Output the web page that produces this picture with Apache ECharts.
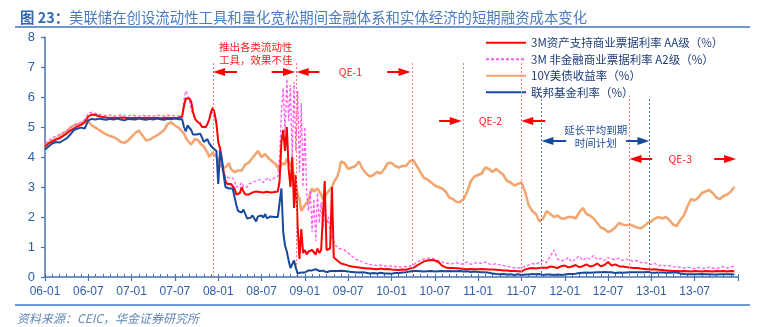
<!DOCTYPE html>
<html>
<head>
<meta charset="utf-8">
<script src="https://cdn.jsdelivr.net/npm/echarts@6/dist/echarts.min.js"></script>
<style>
  html, body { margin: 0; padding: 0; background: #ffffff; }
  #chart { width: 759px; height: 327px; }
</style>
</head>
<body>
<div id="chart"></div>
<script>
// Time axis is measured in months from 2006-01 (0 = 2006-01-01, 96 = 2014-01-01).
// Sampling: half-monthly to 2007-07, weekly through the crisis (2007-08 .. 2009-05), half-monthly after.
function buildMonthGrid() {
  const g = [];
  for (let m = 0; m < 19; m += 0.5) g.push(m);
  for (let m = 19; m < 41; m += 0.25) g.push(m);
  for (let m = 41; m < 96; m += 0.5) g.push(m);
  return g;
}
const months = buildMonthGrid();

const seriesNames = [
  '3M资产支持商业票据利率 AA级（%）',
  '3M 非金融商业票据利率 A2级（%）',
  '10Y美债收益率（%）',
  '联邦基金利率（%）'
];

// 3M asset-backed commercial paper, AA
const abcpRate = [
  4.35,4.45,4.52,4.58,4.62,4.7,4.78,4.88,4.95,5.02,5.07,5.15,
  5.35,5.42,5.4,5.36,5.33,5.32,5.3,5.31,5.3,5.32,5.31,5.3,
  5.3,5.31,5.3,5.3,5.31,5.3,5.3,5.31,5.29,5.3,5.31,5.3,5.3,5.3,
  5.35,5.7,5.95,6.0, 5.95,5.85,5.5,5.3, 5.2,5.25,5.1,5.0, 4.95,5.0,5.1,5.25, 5.5,5.65,5.45,5.1,
  4.5,4.3,3.9,3.5, 3.2,3.1,3.05,3.1, 3.1,2.95,2.75,2.7, 2.8,3.0,2.85,2.75, 2.7,2.75,2.8,2.82,
  2.82,2.85,2.8,2.83, 2.85,2.82,2.8,2.84, 2.83,2.82,2.85,2.83, 2.84,2.85,3.2,4.5, 4.9,4.2,5.0,3.6,
  3.0,4.0,2.3,3.4, 1.7,0.6,1.6,0.8, 0.9,0.75,0.85,0.8, 0.9,0.85,0.75,0.95, 0.8,0.9,0.85,3.2,
  0.9,0.85,0.95,3.0, 0.65,0.6,0.55,0.5,
  0.45,0.42,0.38,0.35,0.33,0.32,0.3,0.28,0.28,0.27,0.26,0.28,0.26,0.27,
  0.25,0.24,0.23,0.25,0.24,0.28,0.3,0.38,0.45,0.52,0.55,0.57,0.55,0.5,0.38,0.32,0.3,0.3,0.29,0.28,0.27,0.26,0.27,0.26,
  0.26,0.27,0.26,0.25,0.25,0.24,0.23,0.22,0.22,0.2,0.2,0.19,0.18,0.25,0.28,0.3,0.28,0.3,0.32,0.3,0.35,0.33,0.3,0.36,
  0.38,0.32,0.35,0.4,0.33,0.36,0.42,0.35,0.38,0.45,0.36,0.4,0.5,0.38,0.42,0.36,0.35,0.33,0.32,0.3,0.3,0.28,0.27,0.26,
  0.25,0.26,0.24,0.23,0.22,0.21,0.2,0.2,0.19,0.2,0.19,0.18,0.2,0.19,0.18,0.2,0.19,0.18,0.2,0.19,0.2,0.18,0.2,0.19
];

// 3M non-financial commercial paper, A2
const cpA2Rate = [
  4.45,4.55,4.65,4.68,4.75,4.82,4.88,4.98,5.05,5.1,5.15,5.25,
  5.45,5.5,5.45,5.42,5.4,5.38,5.4,5.36,5.38,5.4,5.37,5.36,
  5.4,5.38,5.36,5.4,5.37,5.38,5.36,5.4,5.38,5.37,5.4,5.38,5.37,5.36,
  5.4,5.9,6.2,6.1, 5.9,5.6,5.4,5.3, 5.2,5.25,5.15,5.05, 5.0,4.95,5.1,5.3, 5.4,5.5,5.4,5.2,
  4.6,4.0,3.6,3.45, 3.35,3.4,3.3,3.35, 3.3,3.2,3.0,2.95, 3.05,3.15,3.0,2.95, 3.0,3.1,3.05,3.15,
  3.1,3.2,3.15,3.25, 3.2,3.15,3.25,3.2, 3.3,3.2,3.25,3.3, 3.25,3.35,4.0,5.5, 6.3,4.8,6.6,5.2,
  6.4,3.8,6.5,4.2, 6.2,3.5,5.8,3.0, 5.0,2.8,2.2,2.9, 1.5,2.6,1.2,2.8, 1.8,2.5,1.6,2.3,
  1.7,2.0,1.5,1.3, 1.2,1.05,1.0,0.95,
  0.95,0.9,0.8,0.7,0.6,0.55,0.5,0.45,0.42,0.4,0.38,0.4,0.36,0.38,
  0.36,0.35,0.33,0.34,0.35,0.36,0.4,0.48,0.55,0.6,0.62,0.63,0.6,0.55,0.5,0.46,0.45,0.44,0.48,0.42,0.45,0.5,0.42,0.46,
  0.48,0.45,0.5,0.44,0.42,0.45,0.4,0.38,0.36,0.33,0.3,0.3,0.32,0.35,0.4,0.45,0.42,0.5,0.55,0.48,0.7,0.9,0.6,0.55,
  0.55,0.65,0.5,0.6,0.7,0.55,0.65,0.6,0.72,0.58,0.62,0.55,0.65,0.6,0.58,0.62,0.55,0.6,0.56,0.52,0.55,0.48,0.5,0.45,
  0.42,0.45,0.38,0.4,0.36,0.38,0.33,0.35,0.32,0.3,0.33,0.3,0.28,0.32,0.3,0.28,0.33,0.3,0.28,0.32,0.35,0.3,0.33,0.38
];

// 10-year Treasury yield
const tenYearYield = [
  4.4,4.48,4.55,4.6,4.68,4.78,4.85,4.98,5.05,5.1,5.12,5.2,
  5.18,5.05,4.98,4.9,4.82,4.75,4.7,4.66,4.6,4.5,4.47,4.55,
  4.67,4.8,4.88,4.72,4.55,4.58,4.65,4.72,4.8,4.9,5.1,5.15,5.05,4.98,
  4.85,4.78,4.65,4.55, 4.5,4.42,4.5,4.6, 4.6,4.55,4.45,4.4, 4.35,4.25,4.15,4.0, 4.05,4.15,4.15,4.0,
  3.9,3.85,3.65,3.6, 3.65,3.7,3.8,3.6, 3.55,3.5,3.45,3.55, 3.6,3.55,3.65,3.75, 3.75,3.82,3.9,3.95,
  4.05,4.1,4.2,4.15, 4.0,4.05,4.1,4.02, 3.95,3.9,3.85,3.8, 3.75,3.65,3.55,3.8, 3.85,3.75,3.95,3.85,
  3.8,3.65,3.35,3.05, 2.75,2.6,2.2,2.15, 2.4,2.4,2.55,2.8, 2.95,2.85,2.8,2.95, 2.95,2.75,2.6,2.7,
  2.75,2.85,2.9,3.0, 3.15,3.2,3.35,3.55,
  3.85,3.8,3.6,3.65,3.7,3.85,3.6,3.45,3.35,3.4,3.5,3.45,3.6,3.8,
  3.8,3.7,3.65,3.7,3.7,3.85,3.9,3.7,3.5,3.3,3.25,3.15,3.05,3.0,2.95,2.85,2.65,2.6,2.5,2.5,2.6,2.85,3.2,3.35,
  3.4,3.45,3.65,3.6,3.5,3.6,3.5,3.4,3.2,3.15,3.05,3.1,3.15,2.85,2.4,2.2,2.1,1.85,1.95,2.2,2.1,2.0,2.05,1.95,
  1.95,2.0,2.0,1.95,2.15,2.3,2.1,2.05,1.95,1.8,1.65,1.6,1.5,1.55,1.65,1.8,1.75,1.72,1.75,1.7,1.65,1.62,1.7,1.8,
  1.85,1.95,2.0,1.95,2.0,1.9,1.75,1.7,1.9,2.05,2.35,2.6,2.55,2.65,2.8,2.85,2.9,2.8,2.65,2.6,2.7,2.75,2.85,3.0
];

// Effective federal funds rate
const fedFundsRate = [
  4.25,4.35,4.45,4.5,4.48,4.55,4.62,4.75,4.9,4.95,4.98,4.95,
  5.22,5.27,5.25,5.28,5.26,5.24,5.27,5.25,5.28,5.25,5.22,5.27,
  5.26,5.25,5.28,5.26,5.24,5.27,5.25,5.28,5.26,5.24,5.27,5.26,5.28,5.26,
  5.26,5.0,4.85,5.05, 5.0,4.9,4.75,4.8, 4.75,4.72,4.78,4.65, 4.5,4.55,4.6,4.45, 4.5,4.3,4.25,4.2,
  3.1,4.2,3.9,3.4, 3.0,3.05,2.95,3.0, 2.95,2.9,2.4,2.2, 2.25,2.15,2.25,2.1, 1.95,2.0,1.98,2.05,
  2.0,1.85,2.02,2.0, 2.05,1.98,2.1,1.95, 2.0,2.02,1.97,2.0, 2.05,2.0,2.0,2.95, 1.5,1.05,0.85,0.55,
  0.3,0.25,0.55,0.3, 0.12,0.1,0.15,0.12, 0.15,0.2,0.22,0.23, 0.22,0.24,0.26,0.22, 0.2,0.19,0.21,0.18,
  0.16,0.17,0.2,0.22, 0.2,0.18,0.2,0.22,
  0.21,0.2,0.18,0.17,0.16,0.15,0.16,0.14,0.12,0.13,0.12,0.14,0.12,0.12,
  0.11,0.13,0.13,0.15,0.16,0.18,0.2,0.2,0.19,0.18,0.19,0.2,0.18,0.19,0.2,0.19,0.2,0.19,0.19,0.2,0.18,0.19,0.17,0.18,
  0.17,0.16,0.16,0.14,0.12,0.1,0.09,0.1,0.08,0.09,0.07,0.09,0.07,0.08,0.08,0.1,0.09,0.1,0.07,0.08,0.08,0.07,0.08,0.07,
  0.08,0.1,0.1,0.11,0.13,0.14,0.15,0.14,0.15,0.16,0.16,0.17,0.16,0.16,0.13,0.15,0.14,0.15,0.16,0.16,0.16,0.16,0.16,0.17,
  0.14,0.14,0.15,0.15,0.14,0.14,0.15,0.15,0.12,0.1,0.09,0.09,0.09,0.09,0.1,0.09,0.09,0.08,0.08,0.09,0.09,0.09,0.09,0.08
];

// Policy milestones (month index) and the height their guide lines reach
const redEventMonths = [23.3, 34.8, 50.9, 58.0, 66.0, 81.0];
const redEventTops   = [7.15, 7.15, 7.15, 7.15, 7.15, 6.05];
const blueEventMonths = [68.8, 83.7];
const blueEventTops   = [6.1, 6.0];

// Period arrows: [from, to, level] — the head sits at "to"
const redArrows = [
  [26.6, 24.1, 6.83], [31.4, 33.8, 6.83],
  [38.0, 35.7, 6.83], [47.4, 49.8, 6.83],
  [54.6, 56.9, 5.2],  [69.3, 66.8, 5.2],
  [84.1, 81.8, 3.93], [92.7, 94.9, 3.93]
];
const blueArrows = [
  [72.2, 69.6, 4.53], [80.5, 82.9, 4.53]
];

const notes = [
  { text: '推出各类流动性\n工具，效果不佳', at: [29.2, 7.45], color: '#ff1a1a' },
  { text: 'QE-1', at: [42.3, 6.83], color: '#ff1a1a' },
  { text: 'QE-2', at: [61.7, 5.2], color: '#ff1a1a' },
  { text: '延长平均到期\n时间计划', at: [76.3, 4.67], color: '#1f4e9c' },
  { text: 'QE-3', at: [88.0, 3.93], color: '#ff1a1a' }
];

const FONT = '"Liberation Sans", "Noto Sans CJK SC", sans-serif';
const CJK = '"Noto Sans CJK SC", "Liberation Sans", sans-serif';
const AXIS_BLUE = '#4a72b2';
const LABEL_BLUE = '#2f5ea8';

function pad(n) { return (n < 10 ? '0' : '') + n; }
function zip(values) { return values.map((v, i) => [months[i], v]); }

function guideLines(ms, tops, color) {
  return ms.map((m, i) => [
    { coord: [m, 0], symbol: 'none', lineStyle: { color: color, width: 1, type: [2, 2] } },
    { coord: [m, tops[i]], symbol: 'none' }
  ]);
}
function arrows(list, color) {
  return list.map(a => [
    { coord: [a[0], a[2]], symbol: 'none', lineStyle: { color: color, width: 2, type: 'solid' } },
    { coord: [a[1], a[2]], symbol: 'triangle', symbolSize: [8, 12] }
  ]);
}

const chart = echarts.init(document.getElementById('chart'), null, { renderer: 'canvas' });

chart.setOption({
  animation: false,
  backgroundColor: '#ffffff',
  title: {
    text: '{b|图 23：}{n|美联储在创设流动性工具和量化宽松期间金融体系和实体经济的短期融资成本变化}',
    left: 15, top: 5,
    textStyle: {
      rich: {
        b: { fontSize: 14.4, fontWeight: 'bold', color: '#3566ae', fontFamily: CJK },
        n: { fontSize: 14.4, fontWeight: 'normal', color: '#4a7cc2', fontFamily: CJK }
      }
    }
  },
  legend: {
    data: seriesNames,
    orient: 'vertical',
    left: 480, top: 32,
    itemWidth: 40, itemHeight: 10, itemGap: 5,
    itemStyle: { opacity: 0 },
    textStyle: { fontSize: 11.5, color: '#1f3c7a', fontFamily: CJK }
  },
  grid: { left: 45, right: 21, top: 37, bottom: 50, containLabel: false },
  xAxis: [
    {
      type: 'value', min: 0, max: 96, interval: 6,
      axisLine: { show: true, lineStyle: { color: AXIS_BLUE, width: 1.5 } },
      axisTick: { show: true, inside: false, length: 4, lineStyle: { color: AXIS_BLUE, width: 1.2 } },
      axisLabel: {
        color: LABEL_BLUE, fontSize: 12, fontFamily: FONT, margin: 9,
        formatter: v => v >= 96 ? '' : pad(6 + Math.floor(v / 12)) + '-' + pad(v % 12 + 1)
      },
      splitLine: { show: false }
    },
    {
      type: 'value', min: 0, max: 96, interval: 1, position: 'bottom',
      axisLine: { show: false },
      axisTick: { show: true, inside: true, length: 3, lineStyle: { color: AXIS_BLUE, width: 1 } },
      axisLabel: { show: false },
      splitLine: { show: false }
    }
  ],
  yAxis: {
    type: 'value', min: 0, max: 8, interval: 1,
    axisLine: { show: true, lineStyle: { color: AXIS_BLUE, width: 1.5 } },
    axisTick: { show: true, length: 4, lineStyle: { color: AXIS_BLUE, width: 1.2 } },
    axisLabel: { color: LABEL_BLUE, fontSize: 13, fontFamily: FONT, margin: 10 },
    splitLine: { show: false }
  },
  series: [
    {
      name: seriesNames[0], type: 'line', data: zip(abcpRate), z: 4,
      symbol: 'none', showSymbol: false,
      lineStyle: { color: '#ff0000', width: 2 }, itemStyle: { color: '#ff0000' }
    },
    {
      name: seriesNames[1], type: 'line', data: zip(cpA2Rate), z: 3,
      symbol: 'none', showSymbol: false,
      lineStyle: { color: '#ff5cf0', width: 1.3, type: [3, 2] }, itemStyle: { color: '#ff5cf0' }
    },
    {
      name: seriesNames[2], type: 'line', data: zip(tenYearYield), z: 2,
      symbol: 'none', showSymbol: false,
      lineStyle: { color: '#f2a56e', width: 2.5 }, itemStyle: { color: '#f2a56e' }
    },
    {
      name: seriesNames[3], type: 'line', data: zip(fedFundsRate), z: 5,
      symbol: 'none', showSymbol: false,
      lineStyle: { color: '#174a9c', width: 2 }, itemStyle: { color: '#174a9c' }
    },
    {
      name: 'annotations', type: 'line', data: [], z: 6, silent: true,
      markLine: {
        silent: true, animation: false,
        label: { show: false },
        emphasis: { disabled: true },
        data: []
          .concat(guideLines(redEventMonths, redEventTops, '#ff7a7a'))
          .concat(guideLines(blueEventMonths, blueEventTops, '#5578bd'))
          .concat(arrows(redArrows, '#ff0000'))
          .concat(arrows(blueArrows, '#174a9c'))
      }
    }
  ]
});

// Text annotations, placed in data space
const graphics = notes.map(n => {
  const p = chart.convertToPixel({ xAxisIndex: 0, yAxisIndex: 0 }, n.at);
  return {
    type: 'text', x: p[0], y: p[1], z: 100,
    style: {
      text: n.text, fill: n.color, fontSize: 10.5, fontFamily: CJK,
      align: 'center', verticalAlign: 'middle', lineHeight: 13
    }
  };
});
graphics.push(
  { type: 'line', shape: { x1: 15, y1: 27, x2: 750, y2: 27 }, style: { stroke: '#3f79c0', lineWidth: 1.5 } },
  { type: 'line', shape: { x1: 15, y1: 305, x2: 750, y2: 305 }, style: { stroke: '#3f79c0', lineWidth: 1.5 } },
  {
    type: 'text', x: 17, y: 318,
    style: {
      text: '资料来源：CEIC，华金证券研究所', fill: '#6486b8', fontSize: 12,
      fontFamily: CJK, fontStyle: 'italic', verticalAlign: 'middle'
    }
  }
);
chart.setOption({ graphic: graphics });
</script>
</body>
</html>
